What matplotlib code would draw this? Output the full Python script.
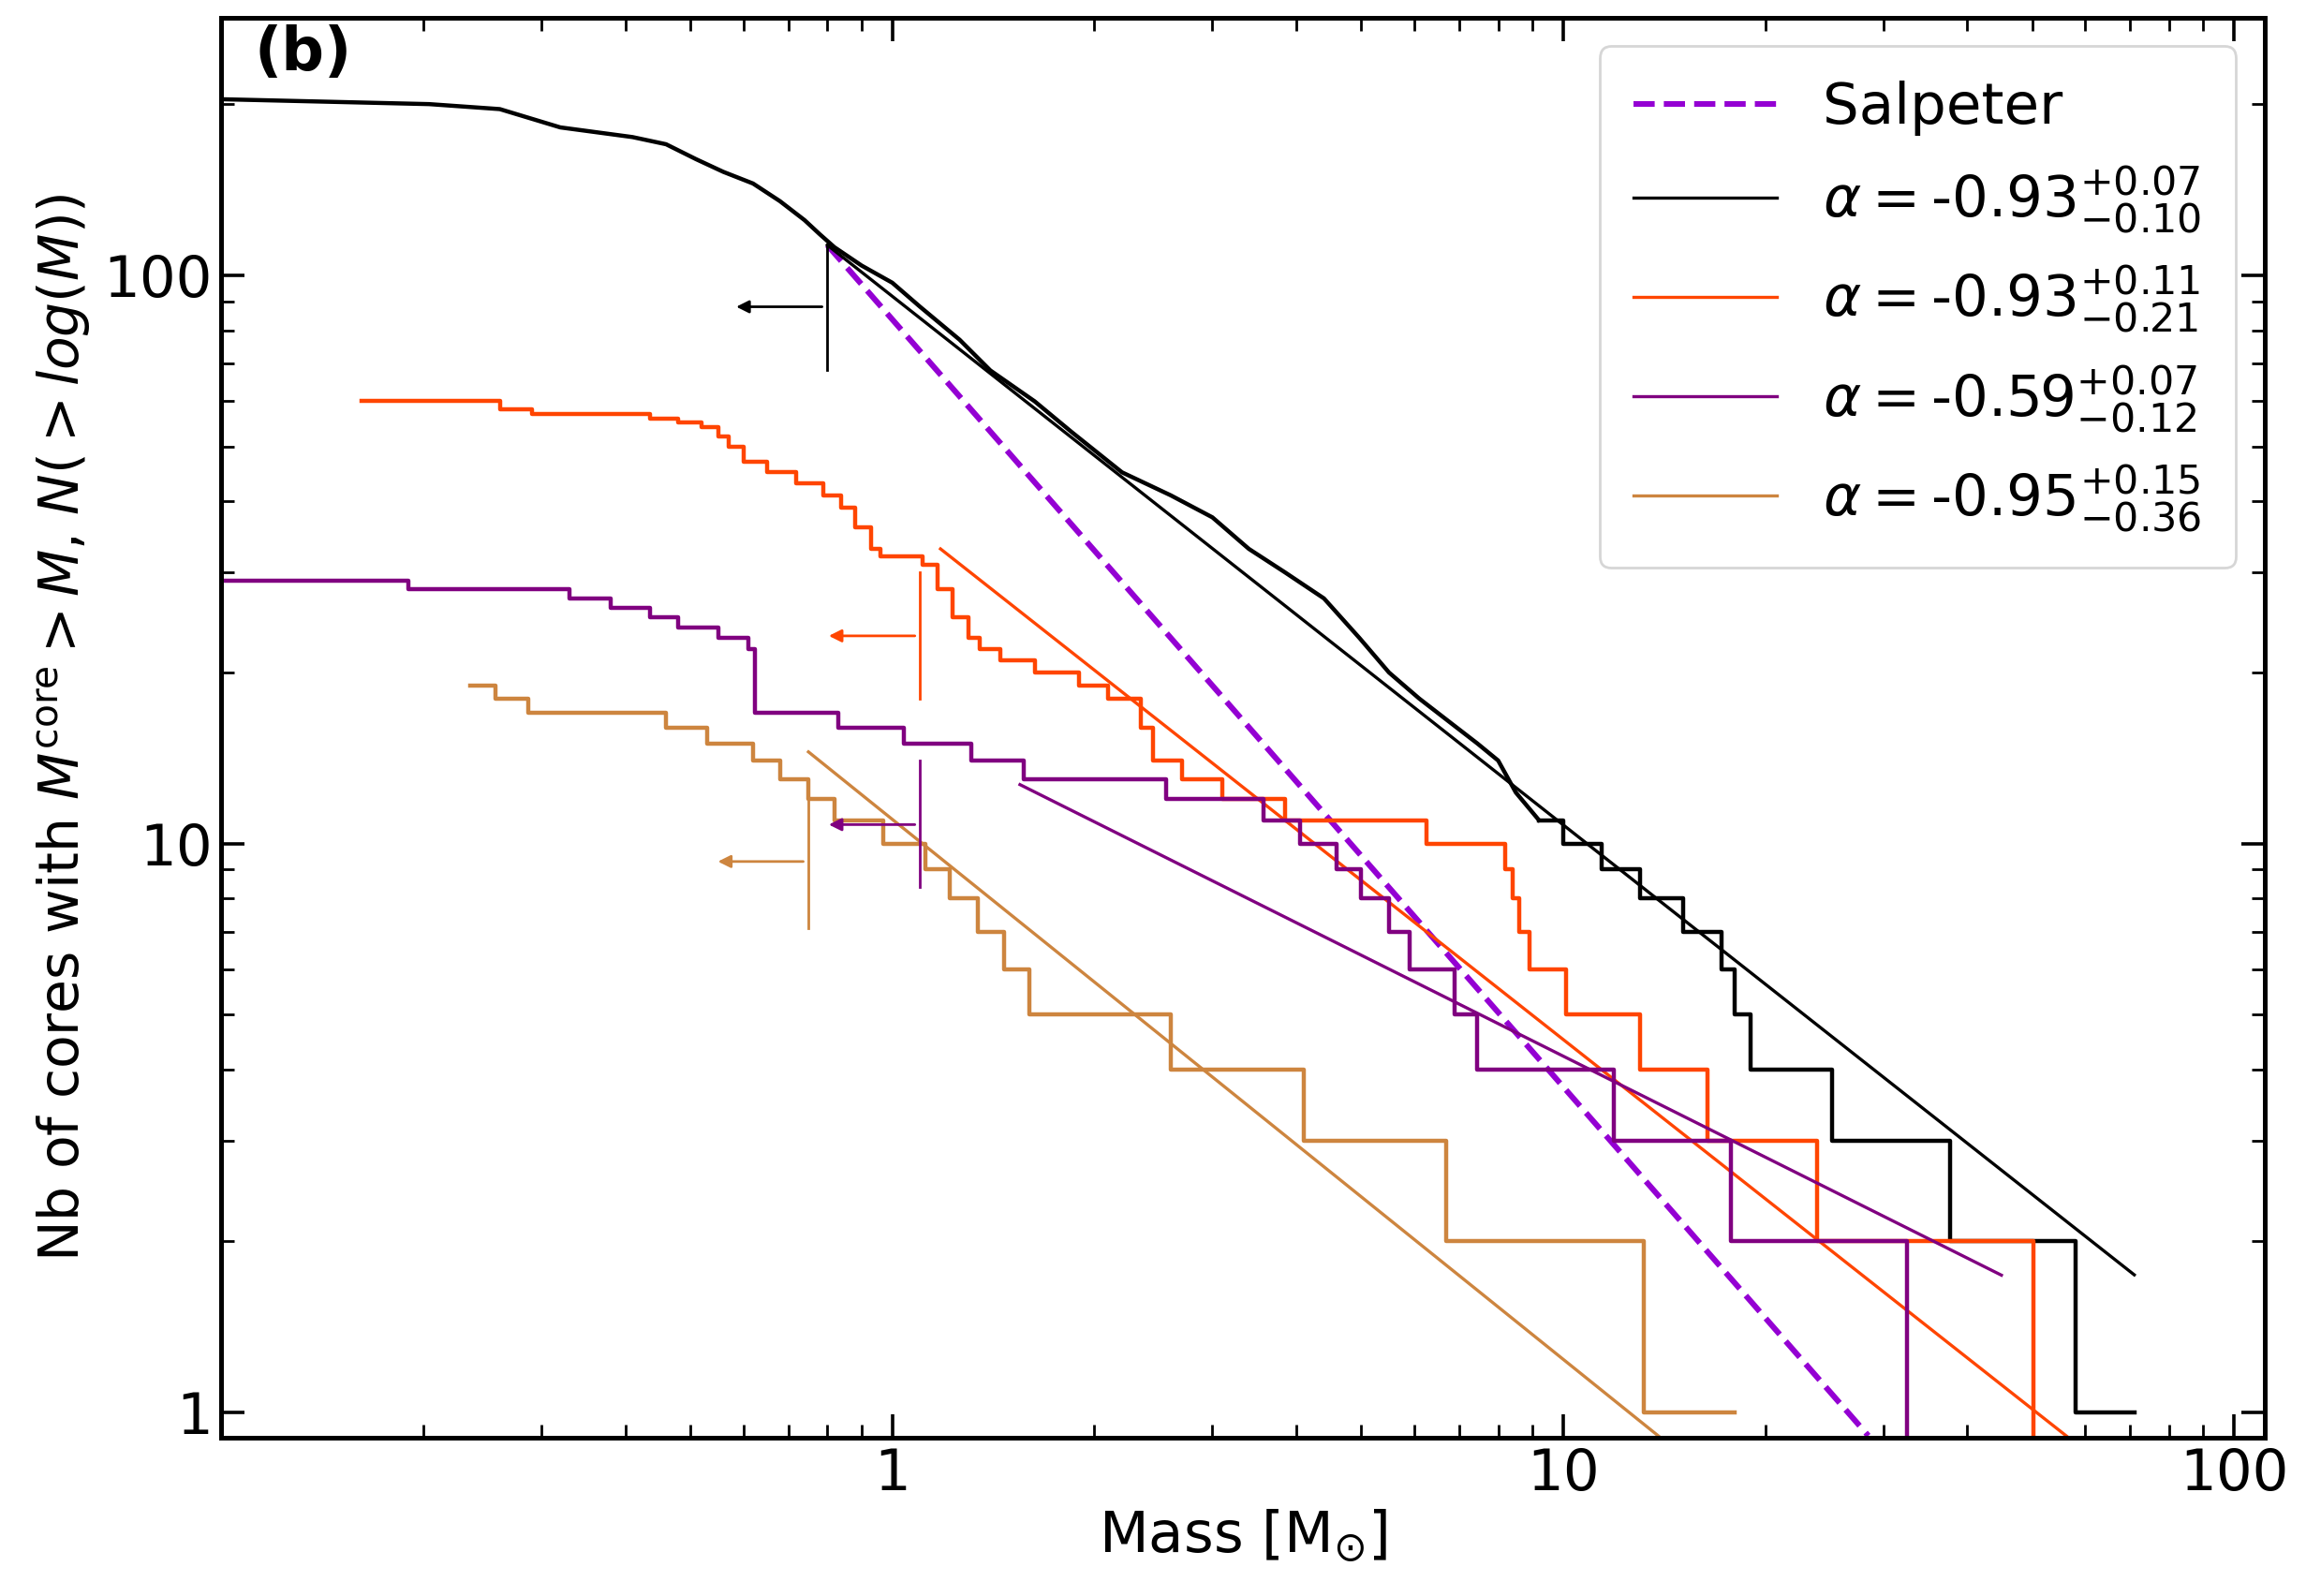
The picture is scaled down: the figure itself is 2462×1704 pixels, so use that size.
import matplotlib
matplotlib.use("Agg")
import matplotlib.pyplot as plt
import numpy as np

# black: dense (smooth-looking) high-N part, then integer steps
black_M_smooth = [0.1, 0.204, 0.26, 0.32, 0.41, 0.46, 0.51, 0.56, 0.62, 0.68, 0.74, 0.78, 0.82, 0.9, 1.0, 1.1, 1.26, 1.4, 1.63, 1.85, 2.2, 2.6, 3.0, 3.4, 3.85, 4.4, 4.97, 5.5, 6.1, 6.8, 7.45, 8.0, 8.5, 9.2]
black_N_smooth = [204, 200, 196, 182, 175, 170, 160, 152, 145, 135, 125, 118, 112, 104, 97, 88, 77, 68, 60, 53, 45, 41, 37.5, 33, 30, 27, 23, 20, 18, 16.3, 15, 14, 12.3, 11]
black_M = [9.2, 10.0, 11.4, 13.0, 15.1, 17.2, 18.0, 19.0, 25.2, 37.7, 58.0, 71.0]
black_N = [11, 10, 9, 8, 7, 6, 5, 4, 3, 2, 1, 1]

orange_M = [0.162, 0.26, 0.29, 0.435, 0.48, 0.52, 0.55, 0.57, 0.6, 0.65, 0.72, 0.79, 0.84, 0.88, 0.93, 0.96, 0.98, 1.11, 1.17, 1.23, 1.3, 1.35, 1.45, 1.63, 1.9, 2.1, 2.35, 2.45, 2.7, 3.1, 3.85, 5.35, 6.25, 8.2, 8.4, 8.6, 8.9, 10.1, 13.0, 16.4, 23.9, 50.3]
orange_N = [60, 58, 57, 56, 55, 54, 52, 50, 47, 45, 43, 41, 39, 36, 33, 32, 32, 31, 28, 25, 23, 22, 21, 20, 19, 18, 16, 14, 13, 12, 11, 11, 10, 9, 8, 7, 6, 5, 4, 3, 2, 0.5]

purple_M = [0.1, 0.19, 0.33, 0.38, 0.435, 0.48, 0.55, 0.61, 0.625, 0.83, 1.04, 1.31, 1.57, 2.56, 3.57, 4.05, 4.6, 5.0, 5.5, 5.9, 6.9, 7.45, 11.9, 17.8, 32.5]
purple_N = [29, 28, 27, 26, 25, 24, 23, 22, 17, 16, 15, 14, 13, 12, 11, 10, 9, 8, 7, 6, 5, 4, 3, 2, 0.5]

tan_M = [0.235, 0.256, 0.287, 0.46, 0.53, 0.62, 0.68, 0.75, 0.82, 0.97, 1.12, 1.22, 1.34, 1.47, 1.6, 2.6, 4.1, 6.7, 13.2, 18.0]
tan_N = [19, 18, 17, 16, 15, 14, 13, 12, 11, 10, 9, 8, 7, 6, 5, 4, 3, 2, 1, 1]

# fits: (alpha, M_start, N_start, M_end)
fit_black = (-0.93, 0.8, 113, 71.0)
fit_orange = (-0.93, 1.18, 33, 58.0)
fit_purple = (-0.59, 1.55, 12.7, 45.0)
fit_tan = (-0.95, 0.75, 14.5, 14.1)
salpeter = (-1.35, 0.8, 113, 28.5)

# completeness markers: (mass, N_low, N_high, N_arrow, M_arrow_end)
comp_black = (0.8, 68, 113, 88, 0.575)
comp_orange = (1.1, 18, 30, 23.2, 0.79)
comp_purple = (1.1, 8.4, 14, 10.8, 0.79)
comp_tan = (0.75, 7.1, 12.2, 9.3, 0.54)

labels = ["Salpeter",
          r"$\alpha=$-0.93$^{+0.07}_{-0.10}$",
          r"$\alpha=$-0.93$^{+0.11}_{-0.21}$",
          r"$\alpha=$-0.59$^{+0.07}_{-0.12}$",
          r"$\alpha=$-0.95$^{+0.15}_{-0.36}$"]

cK, cO, cP, cT, cS = "black", "#FF4500", "#800080", "#CD853F", "#9400D3"

fig = plt.figure(figsize=(12.31, 8.52), dpi=200)
ax = fig.add_axes([0.096, 0.099, 0.886, 0.89])

def fitline(f, c, lw=1.2, ls="-", label=None):
    a, m0, n0, m1 = f
    m = np.array([m0, m1])
    ax.plot(m, n0 * (m / m0) ** a, color=c, lw=lw, ls=ls, label=label)

fitline(salpeter, cS, lw=2.2, ls="--", label=labels[0])
ax.plot(black_M_smooth, black_N_smooth, color=cK, lw=1.6)
for M, N, f, c, lab in [(black_M, black_N, fit_black, cK, labels[1]),
                        (orange_M, orange_N, fit_orange, cO, labels[2]),
                        (purple_M, purple_N, fit_purple, cP, labels[3]),
                        (tan_M, tan_N, fit_tan, cT, labels[4])]:
    ax.plot(M, N, drawstyle="steps-post", color=c, lw=1.6)
    fitline(f, c, label=lab)

for comp, c in [(comp_black, cK), (comp_orange, cO), (comp_purple, cP), (comp_tan, cT)]:
    m, lo, hi, na, me = comp
    ax.plot([m, m], [lo, hi], color=c, lw=1.0)
    ax.annotate("", xy=(me, na), xytext=(m, na),
                arrowprops=dict(arrowstyle="-|>", color=c, lw=1.0, mutation_scale=10))

ax.set_xscale("log"); ax.set_yscale("log")
ax.set_xlim(0.1, 111); ax.set_ylim(0.9, 284)
ax.set_xticks([1, 10, 100]); ax.set_xticklabels(["1", "10", "100"])
ax.set_yticks([1, 10, 100]); ax.set_yticklabels(["1", "10", "100"])
ax.tick_params(which="both", direction="in", top=True, right=True, labelsize=22)
ax.tick_params(which="major", length=9, width=1.3)
ax.tick_params(which="minor", length=5, width=1.0)
for s in ax.spines.values():
    s.set_linewidth(1.8)
ax.set_xlabel(r"Mass [M$_{\odot}$]", fontsize=22, labelpad=2)
ax.set_ylabel(r"Nb of cores with $M^{\rm core}>M$, $N(>log(M))$", fontsize=21)
ax.text(0.016, 0.995, "(b)", transform=ax.transAxes, fontsize=23, fontweight="bold", va="top")
ax.legend(loc="upper right", fontsize=22, handlelength=2.5, borderpad=0.6, labelspacing=0.5)
fig.savefig("out.png", dpi=200)
